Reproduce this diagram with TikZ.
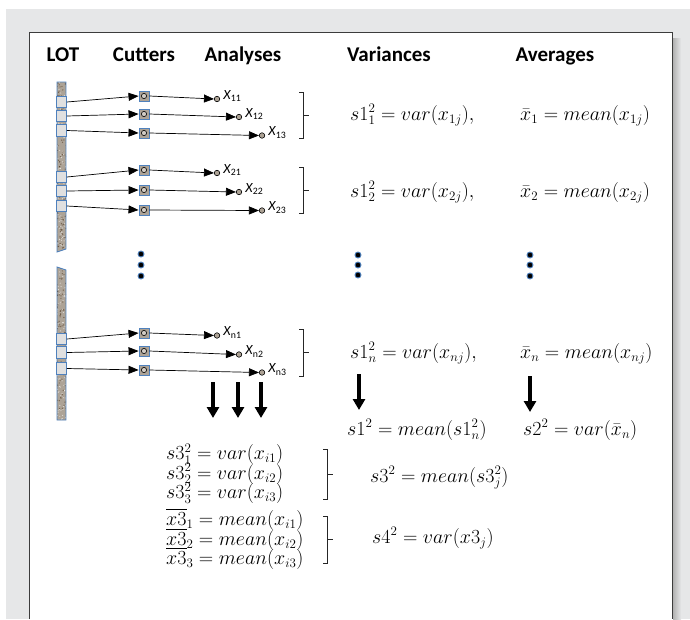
\RequirePackage{fix-cm}
\documentclass[tikz,border=0pt]{standalone}
\usepackage{amsmath}
\usepackage{fontspec}
\setsansfont{Carlito}
\usepackage{xcolor}
\usepackage{tikz}
\usetikzlibrary{positioning,arrows.meta}

\DeclareMathSizes{20}{20}{13}{10}

\definecolor{bggray}{HTML}{E6E7E8}
\definecolor{lotblue}{HTML}{4F81BD}
\definecolor{grit}{HTML}{ADA396}
\definecolor{framegray}{HTML}{3C3C3C}

% bracket closing a group of rows: x, top, bottom
\newcommand{\groupbrace}[3]{%
  \draw[black!85, line width=0.6pt] (#1-4,#2) -- (#1,#2) -- (#1,#3) -- (#1-4,#3)
    (#1,{(#2+#3)/2}) -- (#1+6,{(#2+#3)/2});}

\begin{document}
\begin{tikzpicture}[
		x=1pt, y=-1pt,
		head/.style={font=\sffamily\bfseries\fontsize{21}{24}\selectfont, inner sep=0pt, anchor=base},
		sample/.style={rectangle, draw=lotblue, fill=black!12, line width=0.8pt, minimum width=10pt, minimum height=11.5pt, inner sep=0pt},
		cutter/.style={rectangle, draw=lotblue, fill=grit, line width=0.9pt, minimum size=10pt, inner sep=0pt,
			path picture={\draw[black, fill=grit!55, line width=0.6pt] (path picture bounding box.center) circle (2.6pt);}},
		probe/.style={circle, draw=black, fill=grit, line width=0.6pt, minimum size=5.5pt, inner sep=0pt},
		feed/.style={-{Triangle[length=10pt,width=8pt]}, line width=0.7pt},
		tag/.style={font=\sffamily\fontsize{14}{16}\selectfont, inner sep=0pt},
		formula/.style={anchor=base west, inner sep=0pt, font=\fontsize{20}{22}\selectfont},
		bigarrow/.style={line width=3.2pt, -{Triangle[length=11pt,width=12pt]}},
		vdot/.style={circle, fill=black, draw=lotblue, line width=0.9pt, minimum size=6pt, inner sep=0pt},
		]
		\useasboundingbox (0,0) rectangle (690,619);

		%Backdrop and panel
		\fill[bggray] (6,9) rectangle (690,619);
		\shade[left color=black!30, right color=bggray] (673,38) rectangle (681,619);
		\draw[framegray, line width=1.2pt, fill=white] (29.5,619) -- (29.5,32.5) -- (672.5,32.5) -- (672.5,619);

		%Headings
		\node[head] (lothead) at (63,61) {LOT};
		\node[head] (cuthead) at (144,61) {Cutters};
		\node[head] (anahead) at (243,61) {Analyses};
		\node[head] (varhead) at (389,61) {Variances};
		\node[head] (avghead) at (555,61) {Averages};

		%LOT bar, two pieces with a granular fill
		\pgfmathsetseed{7}
		\begin{scope}
			\clip (57,82) -- (66,82) -- (66,249) -- (57,252) -- cycle
			      (57,267) -- (66,270) -- (66,420) -- (57,420) -- cycle;
			\fill[grit] (56,80) rectangle (67,422);
			\foreach \k in {1,...,260} {
				\fill[black!60!brown, opacity=0.55] (56+11*rnd, 80+342*rnd) circle (0.7pt);
				\fill[white, opacity=0.6] (56+11*rnd, 80+342*rnd) circle (0.6pt);
			}
		\end{scope}
		\draw[lotblue, line width=0.9pt] (57,82) -- (66,82) -- (66,249) -- (57,252) -- cycle;
		\draw[lotblue, line width=0.9pt] (57,267) -- (66,270) -- (66,420) -- (57,420) -- cycle;

		%Lot 1
		\node[sample] (lot11) at (61.5,102) {};
		\node[sample] (lot12) at (61.5,116) {};
		\node[sample] (lot13) at (61.5,130.5) {};
		\node[cutter] (cut11) at (144,96) {};
		\node[cutter] (cut12) at (144,114) {};
		\node[cutter] (cut13) at (144,133) {};
		\node[probe]  (an11)  at (217,99) {};
		\node[probe]  (an12)  at (239,117) {};
		\node[probe]  (an13)  at (262,135.5) {};
		\node[tag, anchor=west] (x11) [right=3pt of an11, yshift=3pt] {\textit{X}\textsubscript{11}};
		\node[tag, anchor=west] (x12) [right=3pt of an12, yshift=3pt] {\textit{X}\textsubscript{12}};
		\node[tag, anchor=west] (x13) [right=3pt of an13, yshift=3pt] {\textit{X}\textsubscript{13}};
		\draw[feed] (lot11.east) -- (cut11.west);
		\draw[feed] (lot12.east) -- (cut12.west);
		\draw[feed] (lot13.east) -- (cut13.west);
		\draw[feed] (cut11.east) -- (an11.west);
		\draw[feed] (cut12.east) -- (an12.west);
		\draw[feed] (cut13.east) -- (an13.west);
		\groupbrace{303}{92}{138}

		%Lot 2
		\node[sample] (lot21) at (61.5,177) {};
		\node[sample] (lot22) at (61.5,191) {};
		\node[sample] (lot23) at (61.5,206) {};
		\node[cutter] (cut21) at (144,170) {};
		\node[cutter] (cut22) at (144,190) {};
		\node[cutter] (cut23) at (144,210) {};
		\node[probe]  (an21)  at (217,173) {};
		\node[probe]  (an22)  at (239,192) {};
		\node[probe]  (an23)  at (262,210.5) {};
		\node[tag, anchor=west] (x21) [right=3pt of an21, yshift=3pt] {\textit{X}\textsubscript{21}};
		\node[tag, anchor=west] (x22) [right=3pt of an22, yshift=3pt] {\textit{X}\textsubscript{22}};
		\node[tag, anchor=west] (x23) [right=3pt of an23, yshift=3pt] {\textit{X}\textsubscript{23}};
		\draw[feed] (lot21.east) -- (cut21.west);
		\draw[feed] (lot22.east) -- (cut22.west);
		\draw[feed] (lot23.east) -- (cut23.west);
		\draw[feed] (cut21.east) -- (an21.west);
		\draw[feed] (cut22.east) -- (an22.west);
		\draw[feed] (cut23.east) -- (an23.west);
		\groupbrace{303}{167}{213}

		%Ellipsis dots
		\node[vdot] (dotc1) at (141,254) {};
		\node[vdot] (dotc2) at (141,265) {};
		\node[vdot] (dotc3) at (141,276) {};
		\node[vdot] (dotv1) at (358,255) {};
		\node[vdot] (dotv2) at (358,265) {};
		\node[vdot] (dotv3) at (358,275) {};
		\node[vdot] (dota1) at (530,255) {};
		\node[vdot] (dota2) at (530,265) {};
		\node[vdot] (dota3) at (530,276) {};

		%Lot n
		\node[sample] (lotn1) at (61.5,339) {};
		\node[sample] (lotn2) at (61.5,352.5) {};
		\node[sample] (lotn3) at (61.5,368.5) {};
		\node[cutter] (cutn1) at (144,333) {};
		\node[cutter] (cutn2) at (144,351) {};
		\node[cutter] (cutn3) at (144,370) {};
		\node[probe]  (ann1)  at (217,335.5) {};
		\node[probe]  (ann2)  at (239,354.5) {};
		\node[probe]  (ann3)  at (262,372.5) {};
		\node[tag, anchor=west] (xn1) [right=3pt of ann1, yshift=3pt] {\textit{X}\textsubscript{n1}};
		\node[tag, anchor=west] (xn2) [right=3pt of ann2, yshift=3pt] {\textit{X}\textsubscript{n2}};
		\node[tag, anchor=west] (xn3) [right=3pt of ann3, yshift=3pt] {\textit{X}\textsubscript{n3}};
		\draw[feed] (lotn1.east) -- (cutn1.west);
		\draw[feed] (lotn2.east) -- (cutn2.west);
		\draw[feed] (lotn3.east) -- (cutn3.west);
		\draw[feed] (cutn1.east) -- (ann1.west);
		\draw[feed] (cutn2.east) -- (ann2.west);
		\draw[feed] (cutn3.east) -- (ann3.west);
		\groupbrace{303}{329}{376}

		%Variances and averages per lot
		\node[formula] (var1) at (350,120) {$s1_1^2 = var(x_{1j}),$};
		\node[formula] (avg1) at (520,120) {$\bar{x}_1 = mean(x_{1j})$};
		\node[formula] (var2) at (350,197) {$s1_2^2 = var(x_{2j}),$};
		\node[formula] (avg2) at (520,197) {$\bar{x}_2 = mean(x_{2j})$};
		\node[formula] (varn) at (350,358) {$s1_n^2 = var(x_{nj}),$};
		\node[formula] (avgn) at (520,358) {$\bar{x}_n = mean(x_{nj})$};

		%Pooled results
		\coordinate (dropv) at (359,374);
		\coordinate (dropvend) at (359,410);
		\coordinate (dropa) at (530,376);
		\coordinate (dropaend) at (530,412);
		\draw[bigarrow] (dropv) -- (dropvend);
		\draw[bigarrow] (dropa) -- (dropaend);
		\node[formula] (s1all) at (347,435) {$s1^2 = mean(s1_n^2)$};
		\node[formula] (s2all) at (523,435) {$s2^2 = var(\bar{x}_n)$};

		%Per-cutter results
		\coordinate (drop1) at (213,382);
		\coordinate (drop1end) at (213,418);
		\coordinate (drop2) at (238,382);
		\coordinate (drop2end) at (238,418);
		\coordinate (drop3) at (261,382);
		\coordinate (drop3end) at (261,418);
		\draw[bigarrow] (drop1) -- (drop1end);
		\draw[bigarrow] (drop2) -- (drop2end);
		\draw[bigarrow] (drop3) -- (drop3end);

		\node[formula] (s3r1) at (166,459.5) {$s3_1^2 = var(x_{i1})$};
		\node[formula] (s3r2) at (166,479) {$s3_2^2 = var(x_{i2})$};
		\node[formula] (s3r3) at (166,498.5) {$s3_3^2 = var(x_{i3})$};
		\groupbrace{327}{449}{499}
		\node[formula] (s3all) at (370,482) {$s3^2 = mean(s3_j^2)$};

		\node[formula] (x3r1) at (166,525.5) {$\overline{x3}_1 = mean(x_{i1})$};
		\node[formula] (x3r2) at (166,545) {$\overline{x3}_2 = mean(x_{i2})$};
		\node[formula] (x3r3) at (166,564.5) {$\overline{x3}_3 = mean(x_{i3})$};
		\groupbrace{327}{516}{563}
		\node[formula] (s4all) at (372,543) {$s4^2 = var(x3_j)$};
	\end{tikzpicture}
\end{document}
